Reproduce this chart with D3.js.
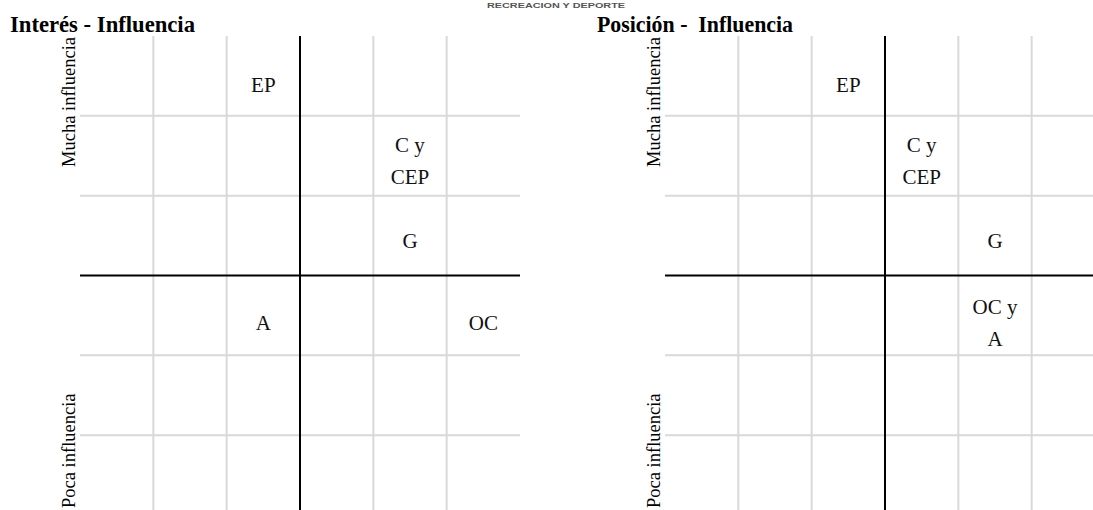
<!DOCTYPE html>
<html>
<head>
<meta charset="utf-8">
<script src="https://cdn.jsdelivr.net/npm/d3@7"></script>
<style>
  body { margin: 0; background: #fff; }
  svg { display: block; }
</style>
</head>
<body>
<script>
// grid: 6 x 6 cells, the middle lines split the quadrants
const gridTicks = [1, 2, 4, 5];
const midTick = 3;
const header = "RECREACION Y DEPORTE";
const titles = ["Interés - Influencia", "Posición -  Influencia"];
const axisTop = "Mucha influencia";
const axisBottom = "Poca influencia";

// stakeholder labels (x = interest / position column, y = influence)
const leftNames = ["EP", "C y\nCEP", "G", "A", "OC"];
const leftX = [2.5, 4.5, 4.5, 2.5, 5.5];
const leftY = [5.38, 4.43, 3.43, 2.41, 2.41];

const rightNames = ["EP", "C y\nCEP", "G", "OC y\nA"];
const rightX = [2.5, 3.5, 4.5, 4.5];
const rightY = [5.38, 4.43, 3.43, 2.41];

const width = 1093;
const height = 510;
const serif = "'Liberation Serif', 'Times New Roman', serif";

const svg = d3.select("body").append("svg")
    .attr("width", width)
    .attr("height", height)
    .attr("viewBox", [0, 0, width, height]);

svg.append("text")
    .attr("x", 556)
    .attr("y", 8)
    .attr("text-anchor", "middle")
    .attr("textLength", 138)
    .attr("lengthAdjust", "spacingAndGlyphs")
    .attr("font-family", "'Liberation Sans', Arial, sans-serif")
    .attr("font-weight", "bold")
    .attr("font-size", 8)
    .attr("fill", "#555")
    .text(header);

const y = d3.scaleLinear().domain([0, 6]).range([515, 36]);

function drawMatrix(left, title, titleX, titleLen, names, xs, ys) {
  const x = d3.scaleLinear().domain([0, 6]).range([left, left + 440]);
  const g = svg.append("g");

  g.append("text")
      .attr("x", titleX)
      .attr("y", 32)
      .attr("textLength", titleLen)
      .attr("lengthAdjust", "spacingAndGlyphs")
      .attr("font-family", serif)
      .attr("font-weight", "bold")
      .attr("font-size", 23)
      .attr("fill", "#000")
      .style("white-space", "pre")
      .text(title);

  // light grid
  g.append("g").selectAll("line")
    .data(gridTicks)
    .join("line")
      .attr("x1", d => x(d)).attr("x2", d => x(d))
      .attr("y1", y(6)).attr("y2", y(0))
      .attr("stroke", "#d9d9d9")
      .attr("stroke-width", 2);

  g.append("g").selectAll("line")
    .data(gridTicks)
    .join("line")
      .attr("x1", x(0)).attr("x2", x(6))
      .attr("y1", d => y(d)).attr("y2", d => y(d))
      .attr("stroke", "#d9d9d9")
      .attr("stroke-width", 2);

  // quadrant axes
  g.append("line")
      .attr("x1", x(midTick)).attr("x2", x(midTick))
      .attr("y1", y(6)).attr("y2", y(0))
      .attr("stroke", "#000")
      .attr("stroke-width", 2);
  g.append("line")
      .attr("x1", x(0)).attr("x2", x(6))
      .attr("y1", y(midTick)).attr("y2", y(midTick))
      .attr("stroke", "#000")
      .attr("stroke-width", 2);

  // influence labels
  const ax = left - 5;
  g.append("text")
      .attr("transform", `translate(${ax},${y(6) + 1}) rotate(-90)`)
      .attr("text-anchor", "end")
      .attr("font-family", serif)
      .attr("font-size", 18.5)
      .text(axisTop);
  g.append("text")
      .attr("transform", `translate(${ax},${y(0) - 7}) rotate(-90)`)
      .attr("text-anchor", "start")
      .attr("font-family", serif)
      .attr("font-size", 18.5)
      .text(axisBottom);

  // stakeholders
  const lineH = 32;
  const labels = g.append("g").selectAll("text")
    .data(names.map((n, i) => ({ lines: n.split("\n"), x: xs[i], y: ys[i] })))
    .join("text")
      .attr("text-anchor", "middle")
      .attr("font-family", serif)
      .attr("font-size", 21)
      .attr("fill", "#111");

  labels.selectAll("tspan")
    .data(d => d.lines.map((l, k) => ({ l, k, n: d.lines.length, x: d.x, y: d.y })))
    .join("tspan")
      .attr("x", d => x(d.x))
      .attr("y", d => y(d.y) + 7 + (d.k - (d.n - 1) / 2) * lineH)
      .text(d => d.l);
}

drawMatrix(80, titles[0], 10, 185, leftNames, leftX, leftY);
drawMatrix(665, titles[1], 597, 196, rightNames, rightX, rightY);
</script>
</body>
</html>
